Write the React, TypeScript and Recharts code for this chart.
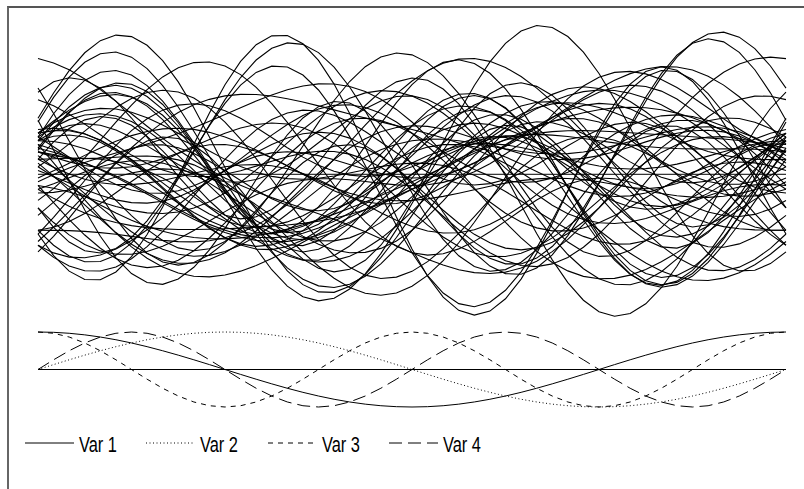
import React from 'react';
import { LineChart, Line, XAxis, YAxis, ReferenceLine } from 'recharts';

// observation scores on the four basis functions (cos t, sin t, cos 2t, sin 2t)
const var1 = [0.3, 0.2, 0.5, 1.3, 0.0, 1.3, 0.7, -0.2, 0.5, 0.3, 0.3, 0.5, -0.5, 0.4,
  0.0, -1.0, -0.3,
  0.2, -0.7, -1.2, 1.28, 0.6, -0.19, 0.71, 0.6, -0.5,
  2.6, -2.0, -1.5, 0.6, 1.8, -0.8,
  1.2, -0.9, 0.5, 1.4, -1.1, 0.7, -0.3, -0.9, 0.3, -0.6,
  0.2, -0.4, 0.8, -0.7,
  -0.5, 0.9, -0.2, 0.6, -0.8, 0.4, -1.2, 0.1];
const var2 = [-1.2, -1.73, -0.2, 0.38, -1.86, -0.65, -1.49, -1.37, 0.0, -0.82, -0.35, -1.36, -1.3, 0.8,
  0.62, 0.31, 0.52,
  0.6, -1.32, 0.2, -0.8, -0.6, 1.29, -0.69, 0.4, 1.0,
  0.4, -1.2, 1.8, -2.5, -1.4, 2.2,
  0.8, 1.0, -1.3, 0.2, -0.4, 1.5, -1.6, -0.9, 0.6, 1.3,
  -0.8, -0.3, 0.9, -0.9,
  0.7, -0.3, -0.6, 0.5, -0.2, 1.1, 0.4, -1.0];
const var3 = [0.3, 0.0, 0.5, 0.2, -0.4, -0.2, -0.3, 0.7, 0.4, 0.6, 0.9, 0.2, 0.8, 1.0,
  1.0, 1.4, 1.0,
  -1.8, -1.38, 2.0, 1.03, 0.85, 2.39, -0.07, -1.5, -1.0,
  0.5, 0.5, -0.3, 0.2, -1.2, 0.6,
  0.8, -0.7, -1.0, -1.2, -0.8, -1.4, -0.6, -1.0, -0.4, 1.5,
  0.9, -1.1, -0.2, 0.4,
  0.6, -0.5, 1.1, 0.4, -0.3, 0.7, 0.9, -0.5];
const var4 = [0.38, -0.15, 1.2, 2.5, -0.06, 1.61, 0.8, -0.43, 1.95, 0.42, 0.43, 0.31, -0.6, 2.29,
  2.22, 1.8, 1.92,
  -2.77, 2.08, -0.4, -2.06, -2.66, 0.73, 2.4, -2.4, -2.2,
  -0.5, 0.6, 0.5, -0.6, 0.2, -0.3,
  -0.9, 1.1, 0.6, 0.9, -1.2, 0.3, -0.8, -0.5, 0.4, 0.5,
  0.8, 0.3, -1.0, -1.3,
  -0.9, -0.7, 0.9, -1.2, 1.4, 0.6, -0.4, 1.0];

const varNames = ['Var 1', 'Var 2', 'Var 3', 'Var 4'];
const varDash = ['', '1 2.5', '5 5', '13 6'];

const STEPS = 48;
const tGrid = Array.from({ length: STEPS + 1 }, (_, k) => (2 * Math.PI * k) / STEPS);

const basis = (t: number) => [Math.cos(t), Math.sin(t), Math.cos(2 * t), Math.sin(2 * t)];

const curveData = tGrid.map((t) => {
  const [b1, b2, b3, b4] = basis(t);
  const row: Record<string, number> = { t };
  var1.forEach((_, i) => {
    row[`c${i}`] = var1[i] * b1 + var2[i] * b2 + var3[i] * b3 + var4[i] * b4;
  });
  return row;
});

const basisData = tGrid.map((t) => {
  const b = basis(t);
  return { t, b0: b[0], b1: b[1], b2: b[2], b3: b[3] };
});

const W = 804;
const H = 489;
const xDomain = [0, 2 * Math.PI];

export default function App() {
  return (
    <div style={{ position: 'absolute', left: 0, top: 0, width: W, height: H, background: '#fff', overflow: 'hidden' }}>
      <div style={{ position: 'absolute', left: 7, top: 6, width: 820, height: 520, borderTop: '2px solid #555', borderLeft: '2px solid #666' }} />
      <div style={{ position: 'absolute', left: 0, top: 0 }}>
        <LineChart width={W} height={H} data={curveData} margin={{ top: 22, right: 18, bottom: H - 318, left: 38 }}>
          <XAxis dataKey="t" type="number" domain={xDomain} hide />
          <YAxis type="number" domain={[-3.85, 4.08]} hide allowDataOverflow />
          <ReferenceLine y={0} stroke="#000" strokeWidth={1} />
          {var1.map((_, i) => (
            <Line key={i} dataKey={`c${i}`} type="linear" stroke="#000" strokeWidth={1.1} dot={false} isAnimationActive={false} />
          ))}
        </LineChart>
      </div>
      <div style={{ position: 'absolute', left: 0, top: 0 }}>
        <LineChart width={W} height={H} data={basisData} margin={{ top: 332, right: 18, bottom: H - 407, left: 38 }}>
          <XAxis dataKey="t" type="number" domain={xDomain} hide />
          <YAxis type="number" domain={[-1, 1]} hide />
          <ReferenceLine y={0} stroke="#000" strokeWidth={1} />
          {varNames.map((n, i) => (
            <Line key={n} name={n} dataKey={`b${i}`} type="linear" stroke="#000" strokeWidth={1}
              strokeDasharray={varDash[i] || undefined} dot={false} isAnimationActive={false} />
          ))}
        </LineChart>
      </div>
      <svg width={W} height={H} style={{ position: 'absolute', left: 0, top: 0 }}>
        {varNames.map((n, i) => {
          const x0 = [25, 146, 268, 389][i];
          return (
            <g key={n}>
              <line x1={x0} x2={x0 + 49} y1={443} y2={443} stroke="#000" strokeWidth={1}
                strokeDasharray={varDash[i] || undefined} />
              <text x={x0 + 54} y={452} fontSize={22} fontFamily="'Liberation Sans Narrow', 'Liberation Sans', Arial, sans-serif"
                textLength={38} lengthAdjust="spacingAndGlyphs" fill="#000">{n}</text>
            </g>
          );
        })}
      </svg>
    </div>
  );
}
